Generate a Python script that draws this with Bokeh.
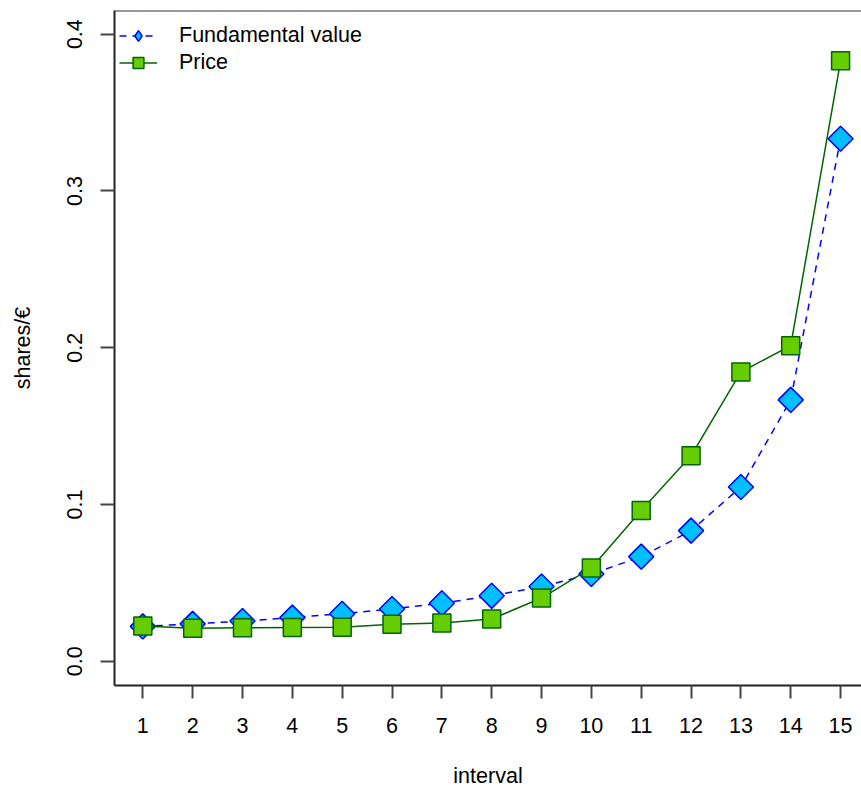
import math
from bokeh.plotting import figure
from bokeh.models import Legend, LegendItem, Span, FixedTicker, PrintfTickFormatter, Range1d
from bokeh.embed import file_html
from bokeh.resources import INLINE

interval = list(range(1, 16))
fundamental = [0.0222, 0.0238, 0.0256, 0.0278, 0.0303, 0.0333, 0.0370, 0.0417,
               0.0476, 0.0556, 0.0667, 0.0833, 0.1111, 0.1667, 0.3333]
price = [0.0224, 0.0211, 0.0213, 0.0215, 0.0216, 0.0235, 0.0243, 0.0269,
         0.0403, 0.0595, 0.0962, 0.1310, 0.1845, 0.2013, 0.3830]
y_ticks = [0.0, 0.1, 0.2, 0.3, 0.4]

FONT = "Liberation Sans"
FS = "21.5px"
NAN = float("nan")

p = figure(width=861, height=793,
           x_range=Range1d(0.432, 15.42), y_range=Range1d(-0.0155, 0.4151),
           output_backend="svg", toolbar_location=None,
           min_border_left=114, min_border_right=0, min_border_top=10, min_border_bottom=108)
p.outline_line_color = None
p.grid.visible = False
p.background_fill_color = "white"

r1 = p.line(interval, fundamental, line_color="blue", line_dash="7 6", line_width=1.5)
s1 = p.scatter(interval, fundamental, marker="square", angle=math.pi / 4, size=17.7,
               fill_color="#00BFFF", line_color="blue", line_width=1.5)
r2 = p.line(interval, price, line_color="#006400", line_width=1.5)
s2 = p.scatter(interval, price, marker="square", size=18,
               fill_color="#66CD00", line_color="#006400", line_width=1.5)

# legend-only key markers (not drawn in the plot: NaN position)
s1_key = p.scatter(x=[NAN], y=[NAN], marker="diamond", size=18,
                   fill_color="#00BFFF", line_color="blue", line_width=1.5)
s2_key = p.scatter(x=[NAN], y=[NAN], marker="square", size=14,
                   fill_color="#66CD00", line_color="#006400", line_width=1.5)

top = Span(location=0.4151, dimension="width", line_color="#333333", line_width=2)
p.add_layout(top)

# x axis
xa = p.xaxis[0]
xa.ticker = FixedTicker(ticks=interval)
xa.axis_label = "interval"
xa.axis_line_width = 2
xa.axis_line_color = "#222222"
xa.major_tick_line_width = 2
xa.major_tick_line_color = "#444444"
xa.major_tick_in = 0
xa.major_tick_out = 13
xa.minor_tick_line_color = None
xa.major_label_standoff = 19
xa.axis_label_standoff = 28
xa.major_label_text_font = FONT
xa.major_label_text_font_size = FS
xa.major_label_text_color = "black"
xa.axis_label_text_font = FONT
xa.axis_label_text_font_size = FS
xa.axis_label_text_font_style = "normal"
xa.axis_label_text_color = "black"

# y axis
ya = p.yaxis[0]
ya.ticker = FixedTicker(ticks=y_ticks)
ya.formatter = PrintfTickFormatter(format="%.1f")
ya.axis_label = "shares/€"
ya.axis_line_width = 2
ya.axis_line_color = "#222222"
ya.major_tick_line_width = 2
ya.major_tick_line_color = "#444444"
ya.major_tick_in = 0
ya.major_tick_out = 14
ya.minor_tick_line_color = None
ya.major_label_orientation = "vertical"
ya.major_label_standoff = 18
ya.axis_label_standoff = 30
ya.major_label_text_font = FONT
ya.major_label_text_font_size = FS
ya.major_label_text_color = "black"
ya.axis_label_text_font = FONT
ya.axis_label_text_font_size = FS
ya.axis_label_text_font_style = "normal"
ya.axis_label_text_color = "black"

legend = Legend(items=[
    LegendItem(label="Fundamental value", renderers=[r1, s1_key]),
    LegendItem(label="Price", renderers=[r2, s2_key]),
], location=(5, 609.5))
legend.padding = 6
legend.margin = 0
legend.spacing = 0
legend.glyph_width = 38
legend.glyph_height = 27
legend.label_height = 27
legend.label_standoff = 22
legend.label_text_font = FONT
legend.label_text_font_size = FS
legend.label_text_color = "black"
legend.border_line_color = None
legend.background_fill_alpha = 0
p.add_layout(legend)

open("out.html", "w").write(file_html(p, INLINE))
